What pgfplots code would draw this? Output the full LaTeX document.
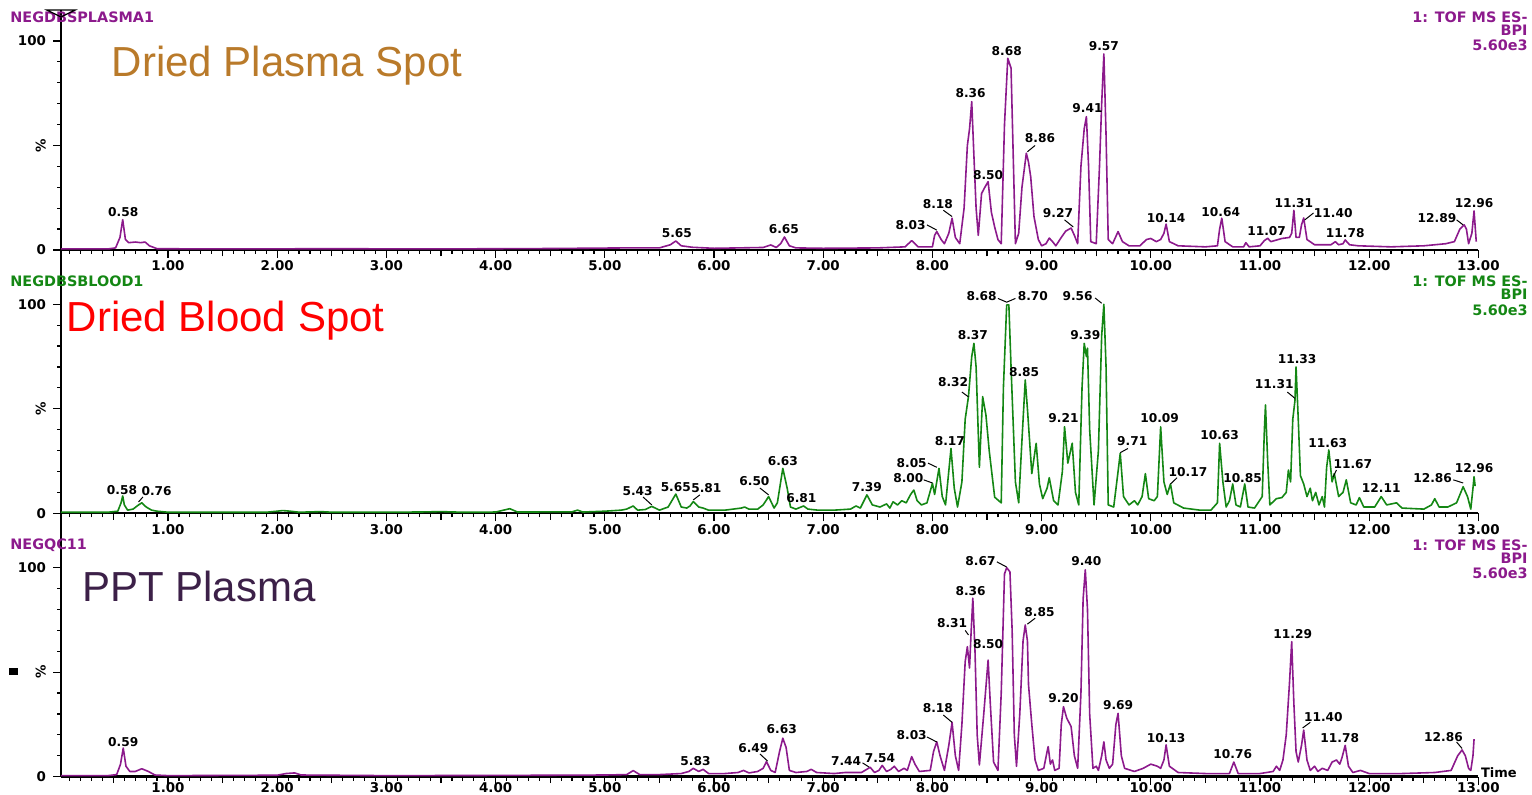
\documentclass[border=0pt]{standalone}
\usepackage{fontspec}
\setmainfont{Liberation Sans}
\newfontfamily\djv{DejaVu Sans}
\usepackage{pgfplots}
\pgfplotsset{compat=1.18}
\definecolor{pur}{RGB}{140,26,140}
\definecolor{grn}{RGB}{20,135,20}
\definecolor{goldt}{RGB}{185,122,42}
\definecolor{pptc}{RGB}{60,32,72}
\tikzset{pklab/.style={font=\djv\bfseries\fontsize{6.1}{7}\selectfont, inner sep=0pt, text=black},
         leader/.style={black, line width=0.5pt},
         hdr/.style={inner sep=0pt, font=\djv\bfseries\fontsize{7.2}{8}\selectfont}}
\newcommand{\pl}[3]{\node[pklab] at (axis cs:#1,#2) {#3};}
\newcommand{\ld}[4]{\draw[leader] (axis cs:#1,#2) -- (axis cs:#3,#4);}
\pgfplotsset{chrom/.style={
  x=54.6pt, y=1.045pt, xmin=0.02, xmax=13.0, ymin=0,
  axis x line=bottom, axis y line=left,
  axis line style={-, line width=1.2pt},
  xtick={0,1,...,13},
  xticklabels={,1.00,2.00,3.00,4.00,5.00,6.00,7.00,8.00,9.00,10.00,11.00,12.00,13.00},
  minor x tick num=9,
  extra x ticks={0.5,1.5,2.5,3.5,4.5,5.5,6.5,7.5,8.5,9.5,10.5,11.5,12.5},
  extra x tick labels={},
  extra x tick style={major tick length=3.2pt},
  ytick={0,50,100}, yticklabels={0,\rotatebox{90}{\%},100},
  minor y tick num=4,
  tick align=outside, major tick length=4pt, minor tick length=2pt,
  tick style={black, line width=0.6pt},
  ticklabel style={font=\djv\bfseries\fontsize{6.7}{8}\selectfont},
  xticklabel style={yshift=2pt},
  clip=false, anchor=south west,
}}
\begin{document}
\begin{tikzpicture}
\useasboundingbox (0,0) rectangle (766pt,397.5pt);
%================ TOP: Dried Plasma Spot =================
\begin{axis}[chrom, at={(30.5pt,272.5pt)}, ymax=114.8]
\addplot[pur, line width=0.8pt, line join=round] coordinates {
(0.02,0.5) (0.45,0.5) (0.52,1) (0.56,6) (0.585,14.5) (0.61,5) (0.64,3.5) (0.70,3.8) (0.75,3.5) (0.79,3.8) (0.83,2) (0.9,0.6) (1.5,0.5) (2.5,0.6) (3.5,0.5) (4.5,0.7) (5.2,1) (5.5,1) (5.6,2.5) (5.65,4.3) (5.7,2) (5.8,1.3) (6.0,0.8) (6.45,1.2) (6.52,2.4) (6.57,1.2) (6.61,3) (6.645,6.2) (6.69,2) (6.75,1) (7.0,0.8) (7.5,1) (7.75,1.5) (7.81,4.5) (7.87,1.5) (8.0,1.5) (8.02,7) (8.04,8.8) (8.08,5) (8.11,3) (8.15,8) (8.18,15.2) (8.21,6) (8.25,3) (8.29,20) (8.32,50) (8.34,58) (8.36,71) (8.38,45) (8.40,20) (8.42,7) (8.45,27) (8.48,30) (8.51,32.7) (8.54,18) (8.57,11) (8.60,5) (8.63,3) (8.66,60) (8.69,91.7) (8.72,87) (8.74,45) (8.76,3) (8.79,8) (8.82,30) (8.86,46.3) (8.88,42) (8.90,35) (8.93,16) (8.97,5) (9.0,2) (9.04,3) (9.07,5.7) (9.10,4) (9.13,2) (9.18,6) (9.22,9) (9.27,10.5) (9.30,7) (9.33,3) (9.36,40) (9.39,58) (9.41,63.8) (9.43,40) (9.45,4) (9.50,3) (9.53,40) (9.55,70) (9.57,93.8) (9.59,55) (9.61,5) (9.65,3) (9.70,8.8) (9.74,4) (9.8,2) (9.9,2) (9.96,5) (10.0,5.5) (10.05,4) (10.09,5) (10.12,8) (10.14,12.4) (10.17,4) (10.25,2) (10.5,1.5) (10.61,2) (10.63,10) (10.65,15.2) (10.68,4) (10.75,1.5) (10.85,1.5) (10.87,3.5) (10.9,1.5) (11.0,2) (11.04,4.5) (11.07,5.6) (11.10,4) (11.2,5.5) (11.27,6) (11.29,8) (11.31,19) (11.33,6) (11.36,6) (11.38,12) (11.40,15.3) (11.43,5) (11.5,2.5) (11.65,2.5) (11.69,4) (11.72,2.5) (11.76,3) (11.78,4.8) (11.82,2.5) (11.9,2) (12.2,1.5) (12.5,2) (12.7,3) (12.78,4) (12.83,10) (12.87,12) (12.89,10) (12.91,3) (12.94,8) (12.96,18.7) (12.98,4)
};
\node[anchor=base west, inner sep=0pt, text=goldt, font=\fontsize{21}{24}\selectfont] at (axis cs:0.483,82.9) {Dried Plasma Spot};
\node[hdr, anchor=west, text=pur] at (axis cs:-0.447,111.5) {NEGDBSPLASMA1};
\node[hdr, anchor=east, text=pur] at (axis cs:13.454,111.5) {1: TOF MS ES-};
\node[hdr, anchor=east, text=pur] at (axis cs:13.454,105.1) {BPI};
\node[hdr, anchor=east, text=pur] at (axis cs:13.454,98.1) {5.60e3};
\draw[black, line width=0.6pt] (axis cs:-0.11,114.8) -- (axis cs:0.15,114.8) -- (axis cs:0.02,111.5) -- cycle;
\pl{0.59}{18.2}{0.58}
\pl{5.66}{8.1}{5.65}
\pl{6.64}{10}{6.65}
\pl{7.80}{12}{8.03} \ld{7.95}{12}{8.04}{9.5}
\pl{8.05}{22}{8.18} \ld{8.10}{19}{8.18}{16}
\pl{8.35}{75}{8.36}
\pl{8.51}{36}{8.50}
\pl{8.68}{95}{8.68}
\pl{8.985}{53.6}{8.86} \ld{8.94}{50}{8.87}{47}
\pl{9.15}{17.7}{9.27} \ld{9.21}{14.4}{9.29}{11}
\pl{9.42}{68}{9.41}
\pl{9.57}{97.6}{9.57}
\pl{10.14}{15.3}{10.14}
\pl{10.64}{18.2}{10.64}
\pl{11.06}{9.1}{11.07}
\pl{11.31}{22.5}{11.31}
\pl{11.67}{17.7}{11.40} \ld{11.49}{17.7}{11.41}{14.4}
\pl{11.78}{8.1}{11.78}
\pl{12.62}{15.3}{12.89} \ld{12.80}{14.4}{12.86}{12}
\pl{12.96}{22.5}{12.96}
\end{axis}
%================ MIDDLE: Dried Blood Spot =================
\begin{axis}[chrom, at={(30.5pt,140.85pt)}, ymax=126]
\addplot[grn, line width=0.8pt, line join=round] coordinates {
(0.02,0.5) (0.45,0.5) (0.54,1) (0.57,5) (0.585,8.3) (0.60,4) (0.63,1.5) (0.68,2) (0.73,4) (0.76,5) (0.80,3) (0.85,1.5) (0.9,1) (1.0,0.5) (1.9,0.5) (2.0,1) (2.05,1.3) (2.12,1) (2.2,0.5) (2.4,0.8) (2.5,0.5) (3.3,0.6) (3.5,0.8) (3.7,0.5) (4.0,0.6) (4.13,2.2) (4.2,0.6) (4.7,0.7) (4.75,1.5) (4.8,0.6) (5.0,1) (5.15,1.5) (5.2,2) (5.26,3.5) (5.3,1.5) (5.37,1.8) (5.43,3.3) (5.5,1.5) (5.58,3) (5.65,9.2) (5.70,3) (5.75,2.5) (5.78,3.5) (5.81,5.6) (5.86,3) (5.9,2.5) (5.95,1.5) (6.1,1.5) (6.25,2.5) (6.28,3) (6.32,2) (6.4,2) (6.45,4) (6.50,8) (6.55,2.5) (6.58,5) (6.63,21.5) (6.67,12) (6.70,3) (6.75,2) (6.82,3.5) (6.86,2) (6.95,1.5) (7.1,1.5) (7.25,2) (7.3,3.5) (7.34,2.5) (7.40,8.8) (7.45,4) (7.52,3) (7.58,4.5) (7.61,2.5) (7.64,5.5) (7.68,4) (7.72,6) (7.76,5) (7.80,9) (7.83,11.1) (7.86,6) (7.9,4) (7.95,5) (8.00,14.3) (8.02,9) (8.06,21.5) (8.09,8) (8.12,4) (8.17,31) (8.20,12) (8.23,3) (8.27,15) (8.30,45) (8.33,55.8) (8.36,75) (8.38,81.3) (8.40,70) (8.43,22) (8.46,55.8) (8.49,47) (8.52,30) (8.57,7.7) (8.63,5) (8.65,60) (8.68,99.7) (8.70,99.7) (8.72,70) (8.76,15) (8.79,5) (8.82,35) (8.85,63.8) (8.87,50) (8.91,19) (8.95,33.5) (8.98,14) (9.01,7) (9.05,12) (9.07,17) (9.11,6) (9.15,4) (9.19,20) (9.21,41.4) (9.24,24) (9.28,33.5) (9.31,10) (9.34,4) (9.37,60) (9.39,81.3) (9.41,75) (9.42,79) (9.44,40) (9.48,4) (9.52,30) (9.55,85) (9.57,100) (9.59,70) (9.61,4) (9.66,3) (9.70,20) (9.72,28.7) (9.75,8) (9.80,4) (9.85,6) (9.88,4) (9.92,8) (9.95,19) (9.98,7) (10.03,6) (10.06,8) (10.09,41.4) (10.12,15) (10.15,9) (10.18,14) (10.21,5) (10.3,2.5) (10.45,1.5) (10.55,1.5) (10.61,5) (10.63,33.5) (10.66,15) (10.69,3) (10.72,6) (10.75,14) (10.78,4) (10.82,3) (10.86,14) (10.89,3) (10.95,2.5) (11.02,8) (11.04,40) (11.05,51.8) (11.07,25) (11.09,4) (11.15,7) (11.2,7.5) (11.24,10) (11.26,20.7) (11.28,15) (11.30,45) (11.32,54) (11.33,70) (11.35,45) (11.37,18) (11.40,14) (11.43,8) (11.46,12) (11.48,6) (11.51,10) (11.54,4) (11.57,8) (11.59,3) (11.61,22) (11.63,30.3) (11.66,15) (11.68,19) (11.72,8) (11.76,10) (11.79,16) (11.83,5) (11.88,4) (11.91,7.5) (11.95,3) (12.05,3) (12.11,8) (12.16,4) (12.25,5) (12.3,2.5) (12.5,2) (12.57,4) (12.60,7) (12.64,3) (12.72,3) (12.8,5) (12.86,12.7) (12.90,8) (12.93,2) (12.95,12) (12.96,17.5) (12.97,13)
};
\node[anchor=base west, inner sep=0pt, text=red, font=\fontsize{21}{24}\selectfont] at (axis cs:0.071,86.9) {Dried Blood Spot};
\node[hdr, anchor=west, text=grn] at (axis cs:-0.447,111.1) {NEGDBSBLOOD1};
\node[hdr, anchor=east, text=grn] at (axis cs:13.454,111.1) {1: TOF MS ES-};
\node[hdr, anchor=east, text=grn] at (axis cs:13.454,104.6) {BPI};
\node[hdr, anchor=east, text=grn] at (axis cs:13.454,97.3) {5.60e3};
\pl{0.578}{11.1}{0.58}
\pl{0.896}{10.7}{0.76} \ld{0.77}{7.8}{0.73}{5.4}
\pl{5.30}{10.7}{5.43} \ld{5.35}{7.8}{5.43}{4}
\pl{5.65}{12.6}{5.65}
\pl{5.93}{12.1}{5.81} \ld{5.87}{8.8}{5.81}{6.4}
\pl{6.37}{15.5}{6.50} \ld{6.42}{12.1}{6.50}{8.8}
\pl{6.63}{25}{6.63}
\pl{6.80}{7.3}{6.81}
\pl{7.40}{12.6}{7.39}
\pl{7.81}{24}{8.05} \ld{7.96}{24}{8.04}{22}
\pl{7.78}{16.9}{8.00} \ld{7.92}{16}{8.00}{14.5}
\pl{8.16}{34.6}{8.17}
\pl{8.19}{62.8}{8.32} \ld{8.27}{58}{8.33}{55.7}
\pl{8.37}{85.3}{8.37}
\pl{8.45}{103.9}{8.68}
\pl{8.92}{103.9}{8.70}
\draw[leader] (axis cs:8.60,102.8) -- (axis cs:8.68,101) -- (axis cs:8.76,102.8);
\pl{8.84}{67.6}{8.85}
\pl{9.20}{45.6}{9.21}
\pl{9.40}{85.3}{9.39}
\pl{9.33}{103.9}{9.56} \ld{9.49}{103}{9.55}{100.5}
\pl{9.83}{34.6}{9.71} \ld{9.79}{31}{9.72}{29}
\pl{10.08}{45.6}{10.09}
\pl{10.34}{19.8}{10.17} \ld{10.24}{17}{10.18}{14}
\pl{10.63}{37.5}{10.63}
\pl{10.84}{16.9}{10.85}
\pl{11.13}{61.9}{11.31} \ld{11.25}{58}{11.32}{55}
\pl{11.34}{73.8}{11.33}
\pl{11.62}{33.6}{11.63}
\pl{11.85}{23.6}{11.67} \ld{11.70}{20.7}{11.67}{17.4}
\pl{12.11}{12.1}{12.11}
\pl{12.58}{16.9}{12.86} \ld{12.77}{16}{12.86}{14.5}
\pl{12.96}{21.6}{12.96}
\end{axis}
%================ BOTTOM: PPT Plasma =================
\begin{axis}[chrom, at={(30.5pt,9.15pt)}, ymax=126, xticklabel style={yshift=2.6pt}]
\addplot[pur, line width=0.8pt, line join=round] coordinates {
(0.02,0.5) (0.45,0.5) (0.53,1) (0.565,6) (0.59,13.7) (0.615,5) (0.65,2.5) (0.70,2.5) (0.76,3.8) (0.82,2.5) (0.88,0.8) (1.0,0.5) (2.0,0.7) (2.08,1.5) (2.16,1.8) (2.22,0.8) (3.0,0.5) (4.0,0.6) (5.0,0.8) (5.2,1) (5.26,2.9) (5.32,1) (5.5,1) (5.7,1.5) (5.77,2.5) (5.81,4) (5.86,2.5) (5.9,3.5) (5.95,1.5) (6.1,1.5) (6.22,2) (6.27,3) (6.32,1.8) (6.4,2.5) (6.45,4) (6.48,7.2) (6.52,3) (6.56,2) (6.60,12) (6.63,18.4) (6.66,14) (6.69,3) (6.75,2) (6.85,2.5) (6.89,3.5) (6.94,2) (7.1,1.5) (7.2,2) (7.35,2) (7.43,4.5) (7.47,2) (7.51,3) (7.54,5.4) (7.58,2.5) (7.62,3.5) (7.65,5) (7.69,2.5) (7.74,4) (7.77,3) (7.81,9.6) (7.84,6) (7.88,2.5) (7.98,3) (8.01,12) (8.04,16.7) (8.07,10) (8.11,3) (8.15,15) (8.18,26) (8.21,10) (8.24,3) (8.27,25) (8.30,55) (8.32,62.2) (8.34,52) (8.355,70) (8.37,85.4) (8.39,60) (8.41,20) (8.43,5.6) (8.47,30) (8.51,55.8) (8.53,35) (8.56,7) (8.60,3) (8.63,40) (8.66,97) (8.68,100) (8.71,98) (8.73,70) (8.75,20) (8.77,5) (8.80,30) (8.83,65) (8.85,72.6) (8.87,65) (8.88,44) (8.91,25) (8.94,8) (8.97,3) (9.02,4) (9.05,12) (9.06,14.4) (9.08,6) (9.10,8) (9.12,3) (9.16,4) (9.18,25) (9.20,33.5) (9.23,28) (9.27,24) (9.30,10) (9.33,4) (9.36,40) (9.38,85) (9.40,99) (9.42,80) (9.44,30) (9.47,4) (9.50,5) (9.52,3) (9.55,10) (9.57,16.7) (9.59,8) (9.62,4) (9.65,6) (9.68,25) (9.70,30.3) (9.73,10) (9.76,4) (9.85,2.5) (9.93,4) (10.0,6) (10.06,5) (10.09,4) (10.12,8) (10.14,15.2) (10.17,5) (10.25,2) (10.5,1.5) (10.72,1.5) (10.76,7) (10.80,1.5) (11.0,1.5) (11.12,2.5) (11.15,5) (11.18,3) (11.21,8) (11.24,20) (11.27,45) (11.29,64.6) (11.31,35) (11.33,12) (11.35,7) (11.38,15) (11.40,22.3) (11.43,8) (11.46,3) (11.50,5) (11.53,2.5) (11.57,4) (11.62,3) (11.66,7) (11.70,8) (11.73,6) (11.75,9) (11.78,15) (11.81,5) (11.85,2) (11.92,3) (12.0,1.5) (12.3,1.5) (12.6,2) (12.75,3) (12.81,10) (12.85,12.8) (12.88,10) (12.91,4) (12.93,3) (12.95,10) (12.96,18)
};
\node[anchor=base west, inner sep=0pt, text=pptc, font=\fontsize{21}{24}\selectfont] at (axis cs:0.209,83.7) {PPT Plasma};
\node[hdr, anchor=west, text=pur] at (axis cs:-0.447,110.9) {NEGQC11};
\node[hdr, anchor=east, text=pur] at (axis cs:13.454,110.9) {1: TOF MS ES-};
\node[hdr, anchor=east, text=pur] at (axis cs:13.454,104.4) {BPI};
\node[hdr, anchor=east, text=pur] at (axis cs:13.454,97.4) {5.60e3};
\node[anchor=west, inner sep=0pt, font=\djv\bfseries\fontsize{6.5}{8}\selectfont] at (axis cs:13.02,1.8) {Time};
\node[fill=black, inner sep=0pt, minimum width=4.5pt, minimum height=3.5pt] at (axis cs:-0.412,50.3) {};
\pl{0.59}{16.6}{0.59}
\pl{5.83}{7.5}{5.83}
\pl{6.36}{13.7}{6.49} \ld{6.42}{10.9}{6.49}{7.5}
\pl{6.62}{22.8}{6.63}
\pl{7.21}{7.5}{7.44} \ld{7.36}{6.6}{7.42}{4.6}
\pl{7.52}{8.9}{7.54}
\pl{7.81}{20}{8.03} \ld{7.95}{19}{8.04}{16.6}
\pl{8.05}{32.9}{8.18} \ld{8.10}{29.5}{8.18}{26}
\pl{8.18}{73.5}{8.31} \ld{8.30}{70}{8.33}{67.8}
\pl{8.35}{88.9}{8.36}
\pl{8.51}{63.5}{8.50}
\pl{8.44}{103.2}{8.67} \ld{8.59}{102.8}{8.68}{100.3}
\pl{8.98}{78.8}{8.85} \ld{8.94}{75.8}{8.87}{73}
\pl{9.20}{37.7}{9.20}
\pl{9.41}{103.2}{9.40}
\pl{9.70}{34.3}{9.69}
\pl{10.14}{18.5}{10.13}
\pl{10.75}{10.9}{10.76}
\pl{11.30}{68.2}{11.29}
\pl{11.58}{28.6}{11.40} \ld{11.46}{26}{11.39}{23.3}
\pl{11.73}{18.5}{11.78}
\pl{12.68}{19}{12.86} \ld{12.80}{16.6}{12.85}{13.5}
\end{axis}
\end{tikzpicture}
\end{document}
